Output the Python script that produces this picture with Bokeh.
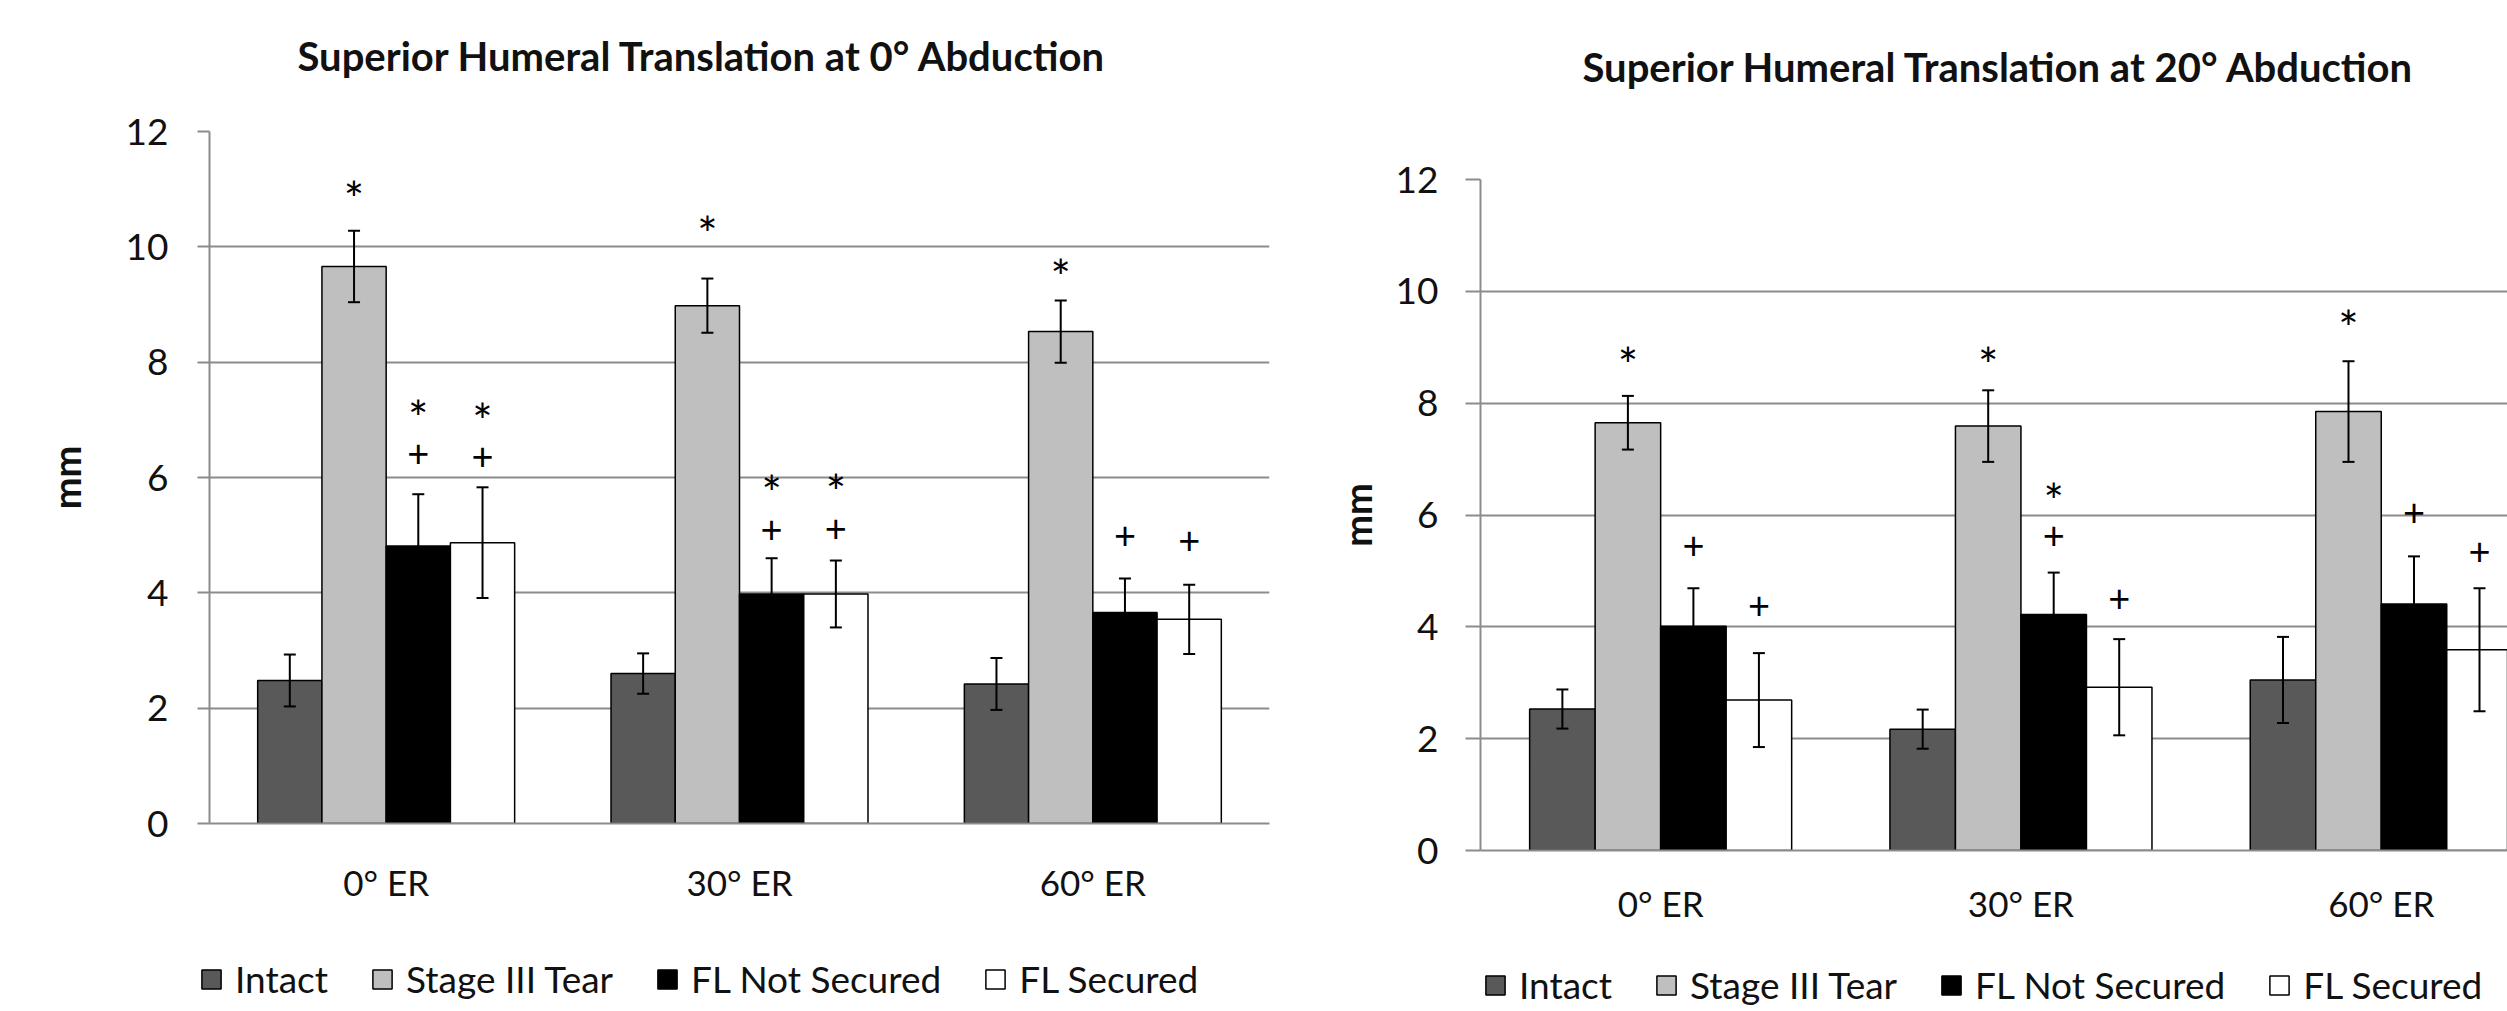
from bokeh.plotting import figure
from bokeh.models import (Range1d, FixedTicker, Whisker, TeeHead, ColumnDataSource,
                          Legend, LegendItem, Title)
from bokeh.layouts import row, column
from bokeh.embed import file_html
from bokeh.resources import INLINE

# ---------------- data ----------------
categories = ["0° ER", "30° ER", "60° ER"]
series_names = ["Intact", "Stage III Tear", "FL Not Secured", "FL Secured"]
series_colors = ["#595959", "#bfbfbf", "#000000", "#ffffff"]
y_ticks = [0, 2, 4, 6, 8, 10, 12]

# Superior humeral translation at 0° abduction (mm)
abd0_intact = [2.48, 2.60, 2.42]
abd0_stage3 = [9.66, 8.98, 8.53]
abd0_fl_not_secured = [4.81, 3.98, 3.66]
abd0_fl_secured = [4.87, 3.98, 3.54]
abd0_intact_err = [0.45, 0.35, 0.45]
abd0_stage3_err = [0.62, 0.47, 0.54]
abd0_fl_not_secured_err = [0.90, 0.62, 0.59]
abd0_fl_secured_err = [0.96, 0.58, 0.60]
# significance marks: category index, series index, symbol, height (mm)
abd0_mark_cat = [0, 0, 0, 0, 0, 1, 1, 1, 1, 1, 2, 2, 2]
abd0_mark_series = [1, 2, 2, 3, 3, 1, 2, 2, 3, 3, 1, 2, 3]
abd0_mark_text = ["*", "*", "+", "*", "+", "*", "*", "+", "*", "+", "*", "+", "+"]
abd0_mark_y = [11.0, 7.2, 6.42, 7.15, 6.37, 10.39, 5.89, 5.10, 5.91, 5.12, 9.65, 5.00, 4.91]

# Superior humeral translation at 20° abduction (mm)
abd20_intact = [2.53, 2.17, 3.05]
abd20_stage3 = [7.65, 7.59, 7.85]
abd20_fl_not_secured = [4.01, 4.22, 4.41]
abd20_fl_secured = [2.69, 2.92, 3.59]
abd20_intact_err = [0.35, 0.35, 0.77]
abd20_stage3_err = [0.48, 0.64, 0.90]
abd20_fl_not_secured_err = [0.68, 0.75, 0.85]
abd20_fl_secured_err = [0.84, 0.86, 1.10]
abd20_mark_cat = [0, 0, 0, 1, 1, 1, 1, 2, 2, 2]
abd20_mark_series = [1, 2, 3, 1, 2, 2, 3, 1, 2, 3]
abd20_mark_text = ["*", "+", "+", "*", "*", "+", "+", "*", "+", "+"]
abd20_mark_y = [8.85, 5.46, 4.39, 8.86, 6.42, 5.65, 4.52, 9.52, 6.06, 5.36]

FONT = "Lato"
GRID = "#8c8c8c"
BAR_W = 1 / 5.5  # Excel-style gap width of 150%
NAN = float("nan")


def make_chart(title, values, errors, mark_cat, mark_series, mark_text, mark_y,
               width, height, border_left, border_right, border_top, border_bottom,
               x_end, title_offset, title_gap,
               label_standoff, axis_label_standoff, x_label_standoff, tick_out):
    p = figure(width=width, height=height, output_backend="svg", toolbar_location=None,
               x_range=Range1d(0, x_end), y_range=Range1d(0, 12),
               min_border_left=border_left, min_border_right=border_right,
               min_border_top=border_top, min_border_bottom=border_bottom)
    p.frame_align = False
    p.outline_line_color = None
    p.background_fill_color = "white"
    p.border_fill_color = "white"
    p.xgrid.grid_line_color = None
    p.ygrid.grid_line_color = GRID
    p.ygrid.grid_line_width = 2
    p.ygrid.ticker = FixedTicker(ticks=y_ticks)

    # real title (outermost) + an empty spacer title between it and the frame
    p.title.text = title
    p.title.align = "left"
    p.title.offset = title_offset
    p.title.standoff = 4
    p.title.text_font = FONT
    p.title.text_font_style = "bold"
    p.title.text_font_size = "40px"
    p.title.text_color = "#111111"
    p.add_layout(Title(text=" ", text_font_size="1px", standoff=title_gap), "above")

    ya = p.yaxis[0]
    ya.ticker = FixedTicker(ticks=y_ticks)
    ya.axis_line_color = GRID
    ya.axis_line_width = 2
    ya.major_tick_line_color = GRID
    ya.major_tick_line_width = 2
    ya.major_tick_out = tick_out
    ya.major_tick_in = 0
    ya.minor_tick_line_color = None
    ya.major_label_text_font = FONT
    ya.major_label_text_font_size = "37px"
    ya.major_label_text_color = "#111111"
    ya.major_label_standoff = label_standoff
    ya.axis_label = "mm"
    ya.axis_label_text_font = FONT
    ya.axis_label_text_font_style = "bold"
    ya.axis_label_text_font_size = "38px"
    ya.axis_label_text_color = "#111111"
    ya.axis_label_standoff = axis_label_standoff

    centers = [i + 0.5 for i in range(len(categories))]
    xa = p.xaxis[0]
    xa.ticker = FixedTicker(ticks=centers)
    xa.major_label_overrides = {c: lab for c, lab in zip(centers, categories)}
    xa.axis_line_color = GRID
    xa.axis_line_width = 2
    xa.major_tick_line_color = None
    xa.minor_tick_line_color = None
    xa.major_tick_out = 0
    xa.major_tick_in = 0
    xa.major_label_text_font = FONT
    xa.major_label_text_font_size = "35px"
    xa.major_label_text_color = "#111111"
    xa.major_label_standoff = x_label_standoff

    for j, col in enumerate(series_colors):
        off = (j - 1.5) * BAR_W
        xs = [c + off for c in centers]
        v = values[j]
        e = errors[j]
        src = ColumnDataSource(dict(x=xs, top=v,
                                    upper=[a + b for a, b in zip(v, e)],
                                    lower=[a - b for a, b in zip(v, e)]))
        p.vbar(x="x", top="top", bottom=0, width=BAR_W, source=src,
               fill_color=col, line_color="black", line_width=1.5)
        w = Whisker(base="x", upper="upper", lower="lower", source=src, dimension="height",
                    line_color="black", line_width=2, level="overlay",
                    upper_head=TeeHead(size=12, line_color="black", line_width=2),
                    lower_head=TeeHead(size=12, line_color="black", line_width=2))
        p.add_layout(w)

    mx = [centers[c] + (s - 1.5) * BAR_W for c, s in zip(mark_cat, mark_series)]
    sizes = ["48px" if t == "*" else "38px" for t in mark_text]
    yoffs = [9 if t == "*" else 0 for t in mark_text]
    msrc = ColumnDataSource(dict(x=mx, y=mark_y, t=mark_text, fs=sizes, yo=yoffs))
    p.text(x="x", y="y", text="t", source=msrc, text_font={"value": FONT},
           text_font_size="fs", y_offset="yo", text_align="center",
           text_baseline="middle", text_color="black", level="overlay")
    return p


def make_legend(width, height, legend_xy):
    # a strip below each chart that only holds the legend; the swatch
    # renderers carry NaN placeholders so that nothing but the key is drawn
    lp = figure(width=width, height=height, output_backend="svg", toolbar_location=None,
                x_range=Range1d(0, 1), y_range=Range1d(0, 1), title=None,
                x_axis_location=None, y_axis_location=None, min_border=0)
    lp.frame_align = False
    lp.outline_line_color = None
    lp.background_fill_color = "white"
    lp.border_fill_color = "white"
    lp.grid.visible = False
    items = []
    for name, col in zip(series_names, series_colors):
        src = ColumnDataSource(dict(x=[NAN], top=[NAN]))
        r = lp.vbar(x="x", top="top", bottom=0, width=0.1, source=src,
                    fill_color=col, line_color="black", line_width=1.5)
        items.append(LegendItem(label=name, renderers=[r], index=0))
    leg = Legend(items=items, orientation="horizontal", location=legend_xy,
                 border_line_color=None, background_fill_alpha=0, padding=0, margin=0,
                 glyph_width=24, glyph_height=24, label_standoff=12, spacing=42,
                 label_text_font=FONT, label_text_font_size="37px",
                 label_text_color="#111111")
    lp.add_layout(leg)
    return lp


p1 = make_chart("Superior Humeral Translation at 0° Abduction",
                [abd0_intact, abd0_stage3, abd0_fl_not_secured, abd0_fl_secured],
                [abd0_intact_err, abd0_stage3_err, abd0_fl_not_secured_err, abd0_fl_secured_err],
                abd0_mark_cat, abd0_mark_series, abd0_mark_text, abd0_mark_y,
                width=1330, height=940, border_left=209, border_right=61, border_top=131,
                border_bottom=117, x_end=3, title_offset=88, title_gap=47,
                label_standoff=29, axis_label_standoff=34, x_label_standoff=37, tick_out=12)
l1 = make_legend(1330, 71, (199, 10))

p2 = make_chart("Superior Humeral Translation at 20° Abduction",
                [abd20_intact, abd20_stage3, abd20_fl_not_secured, abd20_fl_secured],
                [abd20_intact_err, abd20_stage3_err, abd20_fl_not_secured_err, abd20_fl_secured_err],
                abd20_mark_cat, abd20_mark_series, abd20_mark_text, abd20_mark_y,
                width=1177, height=940, border_left=148, border_right=0, border_top=179,
                border_bottom=90, x_end=1029 / 361, title_offset=102, title_gap=84,
                label_standoff=27, axis_label_standoff=13, x_label_standoff=31, tick_out=15)
l2 = make_legend(1177, 71, (153, 4))

layout = row(column(p1, l1, spacing=0), column(p2, l2, spacing=0), spacing=0)
open("out.html", "w").write(file_html(layout, INLINE))
